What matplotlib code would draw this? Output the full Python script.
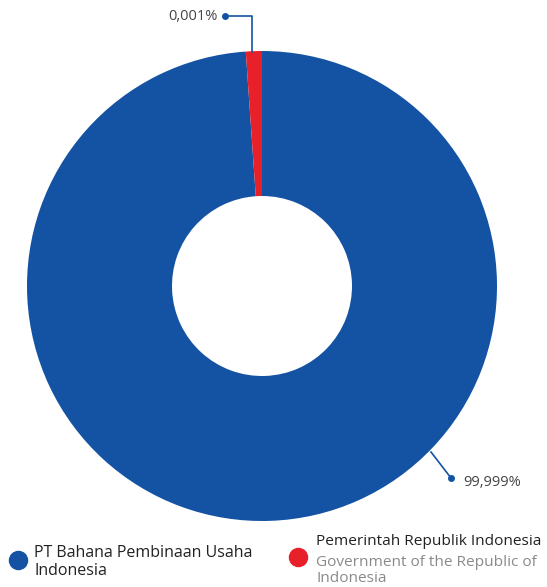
import matplotlib.pyplot as plt
import numpy as np

plt.rcParams['font.family'] = ['Open Sans', 'DejaVu Sans']

# shareholders
names = ["PT Bahana Pembinaan Usaha\nIndonesia", "Pemerintah Republik Indonesia"]
names_en = ["", "Government of the Republic of\nIndonesia"]
labels = ["99,999%", "0,001%"]
# visual share of the ring as drawn in the picture (tiny slice enlarged)
shown = [98.9, 1.1]
colors = ["#1453a3", "#e8202a"]

W, H = 547, 587
fig = plt.figure(figsize=(W / 100, H / 100), dpi=100)
ax = fig.add_axes([0, 0, 1, 1])

cx, cy, r = 262, H - 286, 235
ax.pie(shown, colors=colors, startangle=90, counterclock=False,
       center=(cx, cy), radius=r, frame=True,
       wedgeprops=dict(width=r - 90, linewidth=0))
ax.set_xlim(0, W)
ax.set_ylim(0, H)
ax.set_aspect('equal')
ax.axis('off')

line_c = "#1453a3"
# small slice label
ax.plot([225, 252, 252], [H - 16, H - 16, H - 52], color=line_c, lw=1.2)
ax.plot(225, H - 16, 'o', color=line_c, ms=4)
ax.text(218, H - 16, labels[1], ha='right', va='center', fontsize=10.5, color="#444444")

# big slice label
ax.plot([431, 451], [H - 452, H - 478], color=line_c, lw=1.2)
ax.plot(451, H - 478, 'o', color=line_c, ms=4)
ax.text(463, H - 482, labels[0], ha='left', va='center', fontsize=10.5, color="#444444")

# legend
ax.plot(18, H - 560, 'o', color=colors[0], ms=13)
ax.text(34, H - 545, names[0], ha='left', va='top', fontsize=11.5, color="#222222",
        linespacing=1.15)
ax.plot(298, H - 557, 'o', color=colors[1], ms=13)
ax.text(316, H - 534, names[1], ha='left', va='top', fontsize=11.1, color="#222222")
ax.text(316, H - 555, names_en[1], ha='left', va='top', fontsize=11.1, color="#8a8a8a",
        linespacing=1.1)

fig.savefig("out.png", dpi=100)
